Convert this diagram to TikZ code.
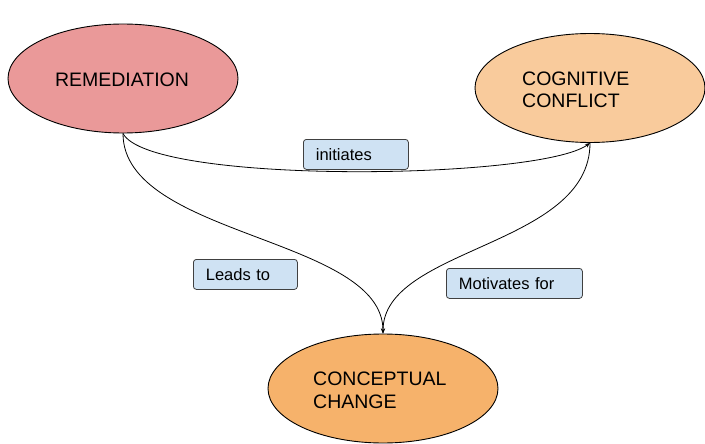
\documentclass[tikz,border=0pt]{standalone}
\usepackage{fontspec}
\setmainfont{Liberation Sans}
\usetikzlibrary{shapes.geometric,arrows.meta}
\definecolor{remfill}{HTML}{EA9999}
\definecolor{cogfill}{HTML}{F9CB9C}
\definecolor{conchg}{HTML}{F6B26B}
\definecolor{lblfill}{HTML}{CFE2F3}
\tikzset{
  bubble/.style={ellipse, draw=black, line width=0.9pt, minimum width=230pt, minimum height=109pt, inner sep=0pt},
  bigtxt/.style={font=\fontsize{19.5}{23}\selectfont, align=left, inner sep=0pt},
  lbl/.style={draw=black!75, fill=lblfill, rounded corners=3pt, line width=0.8pt, font=\fontsize{16.5}{19}\selectfont, align=left, inner xsep=12.5pt, inner ysep=0pt, minimum height=30pt},
  conn/.style={draw=black, line width=0.8pt, -{Stealth[length=5pt,width=4pt]}}
}
\begin{document}
\begin{tikzpicture}[x=1pt,y=-1pt]
\useasboundingbox (0,0) rectangle (705,444);
\node[bubble, fill=remfill] (rem) at (123,78.5) {};
\node[bubble, fill=cogfill] (cog) at (590,88) {};
\node[bubble, fill=conchg] (con) at (383,388.5) {};
\node[bigtxt] (remt) at (122,80) {REMEDIATION};
\node[bigtxt, anchor=base west] (cogt) at (522,108) {COGNITIVE\\CONFLICT};
\node[bigtxt, anchor=base west] (cont) at (313,408) {CONCEPTUAL\\CHANGE};
\draw[conn] (rem.south) .. controls (150,185) and (540,180) .. (cog.south);
\draw[conn] (rem.south) .. controls (123,237) and (383,237) .. (con.north);
\draw[conn] (cog.south) .. controls (590,247) and (383,247) .. (con.north);
\node[lbl, text width=80pt, anchor=north west] (ini) at (303,139) {initiates};
\node[lbl, text width=79pt, anchor=north west] (lead) at (193,259) {Leads to};
\node[lbl, text width=111pt, anchor=north west] (mot) at (446,268) {Motivates for};
\end{tikzpicture}
\end{document}
